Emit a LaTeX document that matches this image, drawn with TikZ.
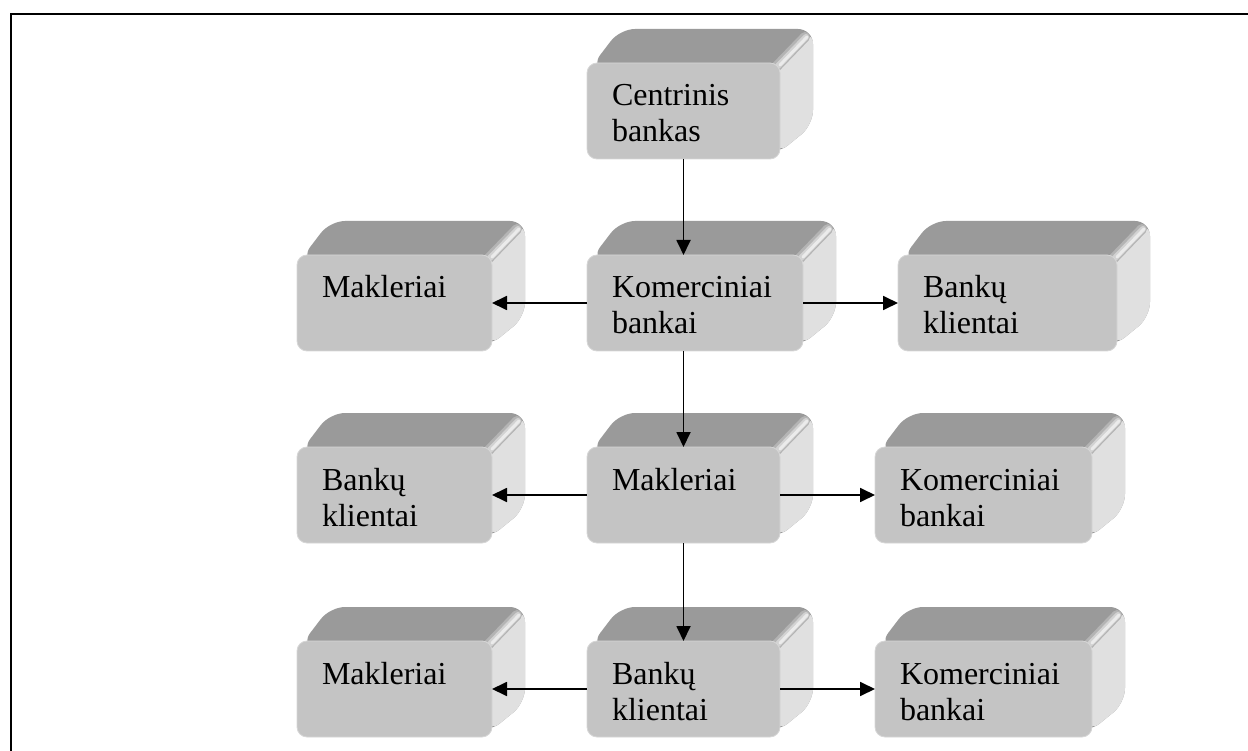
\documentclass[tikz,border=0pt]{standalone}
\usepackage{fontspec}
\setmainfont{Liberation Serif}
\usetikzlibrary{arrows.meta,calc,backgrounds}
\definecolor{frontc}{HTML}{C4C4C4}
\definecolor{edgec}{HTML}{D6D6D6}
\definecolor{topc}{HTML}{9A9A9A}
\definecolor{sidec}{HTML}{E0E0E0}
\definecolor{ridgea}{HTML}{B4B4B4}
\definecolor{ridgeb}{HTML}{D2D2D2}
\definecolor{ridgec}{HTML}{EBEBEB}
\newcommand\boxtext[2]{\parbox[c][96pt][t]{#1}{\raggedright\rule{0pt}{43pt}#2}}
\newcommand\depthfaces[1]{%
  \fill[topc,rounded corners=15pt] ($(#1.north west)+(4,4)$) -- ($(#1.north west)+(33,-34)$) -- ($(#1.north east)+(33,-34)$) -- ($(#1.south east)+(33,-34)$) -- ($(#1.south east)+(-4,-4)$) -- cycle;
  \fill[sidec,rounded corners=15pt] ($(#1.north east)+(-4,4)$) -- ($(#1.north east)+(33,-34)$) -- ($(#1.south east)+(33,-34)$) -- ($(#1.south east)+(-4,-4)$) -- cycle;
  \begin{scope}
    \clip[rounded corners=15pt] ($(#1.north west)+(4,4)$) -- ($(#1.north west)+(33,-34)$) -- ($(#1.north east)+(33,-34)$) -- ($(#1.south east)+(33,-34)$) -- ($(#1.south east)+(-4,-4)$) -- cycle;
    \draw[ridgea, line width=10pt, line cap=round] ($(#1.north east)+(-4,4)$) -- ($(#1.north east)+(25,-26)$);
    \draw[ridgeb, line width=6pt, line cap=round] ($(#1.north east)+(-2,3)$) -- ($(#1.north east)+(26,-26)$);
    \draw[ridgec, line width=3pt, line cap=round] ($(#1.north east)+(0,2)$) -- ($(#1.north east)+(27,-26)$);
  \end{scope}
}
\tikzset{
  front/.style={fill=frontc, draw=edgec, line width=0.8pt, rounded corners=10pt, inner sep=0pt, outer sep=0pt, minimum height=96pt},
  conn/.style={line width=1.8pt, -{Triangle[length=15pt,width=14pt]}},
  frame/.style={line width=2pt}
}
\begin{document}
\begin{tikzpicture}[x=1pt,y=-1pt,font=\fontsize{32}{36}\selectfont]
\useasboundingbox (0,0) rectangle (1248,751);
\draw[frame] (10.5,752) -- (10.5,14.3) -- (1249,14.3);
% row 1
\node[front, minimum width=193pt] (cb) at (683.5,111) {\boxtext{143pt}{Centrinis\\bankas}};
% row 2
\node[front, minimum width=195pt] (mk1) at (394.5,303) {\boxtext{145pt}{Makleriai}};
\node[front, minimum width=216pt] (kb1) at (695,303) {\boxtext{166pt}{Komerciniai\\bankai}};
\node[front, minimum width=219pt] (bk1) at (1007.5,303) {\boxtext{169pt}{Bankų\\klientai}};
% row 3
\node[front, minimum width=195pt] (bk2) at (394.5,495) {\boxtext{145pt}{Bankų\\klientai}};
\node[front, minimum width=193pt] (mk2) at (683.5,495) {\boxtext{143pt}{Makleriai}};
\node[front, minimum width=217pt] (kb2) at (983.5,495) {\boxtext{167pt}{Komerciniai\\bankai}};
% row 4
\node[front, minimum width=195pt] (mk3) at (394.5,689) {\boxtext{145pt}{Makleriai}};
\node[front, minimum width=193pt] (bk3) at (683.5,689) {\boxtext{143pt}{Bankų\\klientai}};
\node[front, minimum width=217pt] (kb3) at (983.5,689) {\boxtext{167pt}{Komerciniai\\bankai}};
\begin{scope}[on background layer]
\foreach \n in {cb,mk1,kb1,bk1,bk2,mk2,kb2,mk3,bk3,kb3}{\depthfaces{\n}}
\end{scope}
% connectors
\draw[conn] (cb.south) -- (cb.south |- kb1.north);
\draw[conn] (kb1.west) -- (kb1.west -| mk1.east);
\draw[conn] (kb1.east) -- (kb1.east -| bk1.west);
\draw[conn] (cb.south |- kb1.south) -- (mk2.north);
\draw[conn] (mk2.west) -- (mk2.west -| bk2.east);
\draw[conn] (mk2.east) -- (mk2.east -| kb2.west);
\draw[conn] (mk2.south) -- (bk3.north);
\draw[conn] (bk3.west) -- (bk3.west -| mk3.east);
\draw[conn] (bk3.east) -- (bk3.east -| kb3.west);
\end{tikzpicture}
\end{document}
